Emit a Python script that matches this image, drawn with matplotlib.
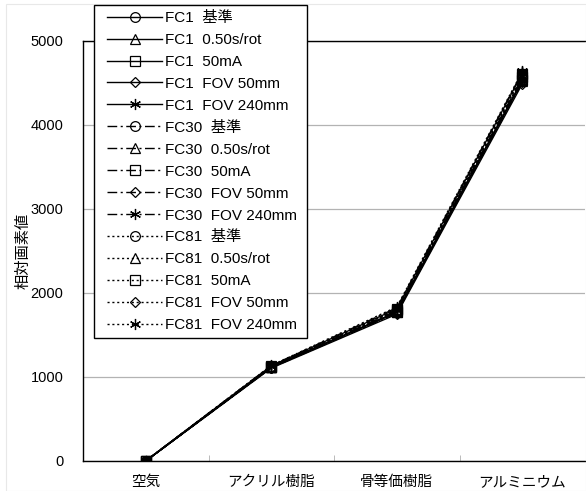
import matplotlib
matplotlib.use("Agg")
import matplotlib.pyplot as plt
from matplotlib.patches import Rectangle

plt.rcParams['font.family'] = ['Liberation Sans', 'Noto Sans CJK JP']

# 材質ごとの相対画素値
materials = ["空気", "アクリル樹脂", "骨等価樹脂", "アルミニウム"]

fc1_base = [0, 1118, 1768, 4529]
fc1_050 = [1, 1115, 1772, 4522]
fc1_50ma = [-2, 1121, 1775, 4540]
fc1_fov50 = [0, 1106, 1748, 4492]
fc1_fov240 = [3, 1133, 1812, 4618]

fc30_base = [0, 1120, 1785, 4555]
fc30_050 = [2, 1117, 1780, 4548]
fc30_50ma = [-1, 1124, 1792, 4570]
fc30_fov50 = [0, 1110, 1760, 4515]
fc30_fov240 = [2, 1136, 1825, 4630]

fc81_base = [0, 1124, 1800, 4590]
fc81_050 = [1, 1121, 1795, 4582]
fc81_50ma = [-1, 1127, 1808, 4605]
fc81_fov50 = [0, 1113, 1772, 4540]
fc81_fov240 = [2, 1138, 1835, 4640]

filters = ["FC1", "FC30", "FC81"]
conditions = ["基準", "0.50s/rot", "50mA", "FOV 50mm", "FOV 240mm"]
series = [
    [fc1_base, fc1_050, fc1_50ma, fc1_fov50, fc1_fov240],
    [fc30_base, fc30_050, fc30_50ma, fc30_fov50, fc30_fov240],
    [fc81_base, fc81_050, fc81_50ma, fc81_fov50, fc81_fov240],
]

line_styles = ["-", (0, (7, 2.5, 1.5, 2.5)), (0, (1.5, 2))]
markers = ["o", "^", "s", "D", (6, 2, 0)]
marker_sizes = [7, 7, 7, 5.5, 8]

fig = plt.figure(figsize=(5.86, 4.91), dpi=100)
ax = fig.add_axes([0.1416, 0.0611, 0.857, 0.8554])

x = list(range(len(materials)))
for i, f in enumerate(filters):
    for j, c in enumerate(conditions):
        ax.plot(x, series[i][j], color="black", linewidth=1.0,
                linestyle=line_styles[i], marker=markers[j],
                markersize=marker_sizes[j], markerfacecolor="none",
                markeredgecolor="black", markeredgewidth=0.9,
                label=f"{f}  {c}")

ax.set_xlim(-0.5, 3.5)
ax.set_ylim(0, 5000)
ax.set_yticks([0, 1000, 2000, 3000, 4000, 5000])
ax.set_xticks(x)
ax.set_xticklabels(materials, fontsize=10.5)
ax.set_xticks([0.5, 1.5, 2.5], minor=True)
ax.tick_params(axis="x", which="major", length=0, pad=10)
ax.tick_params(axis="x", which="minor", direction="in", length=4,
               color="#b0b0b0")
ax.tick_params(axis="y", length=0, pad=14, labelsize=10.5)
ax.yaxis.grid(True, color="#b3b3b3", linewidth=0.9)
ax.set_axisbelow(True)
for s in ax.spines.values():
    s.set_linewidth(1.0)
ax.spines["right"].set_visible(False)
ax.set_ylabel("相対画素値", fontsize=11)
ax.yaxis.set_label_coords(-0.105, 0.5)

# 凡例（枠は別に描く）
W, H = 586, 491
leg = fig.legend(loc="upper left", bbox_to_anchor=(107 / W, 1 - 11 / H),
                 fontsize=11, handlelength=3.6, handletextpad=0.2,
                 labelspacing=0.52, borderpad=0, frameon=False,
                 borderaxespad=0)
fig.patches.append(Rectangle((94 / W, 1 - 338 / H), 213 / W, 333 / H,
                             transform=fig.transFigure, facecolor="white",
                             edgecolor="black", linewidth=1.0, zorder=4))
leg.set_zorder(5)

# 外枠
fig.patches.append(Rectangle((0.01, 0.0), 0.99, 0.992,
                             transform=fig.transFigure, fill=False,
                             edgecolor="#e8e8e8", linewidth=0.8))

fig.savefig("out.png", dpi=100)
